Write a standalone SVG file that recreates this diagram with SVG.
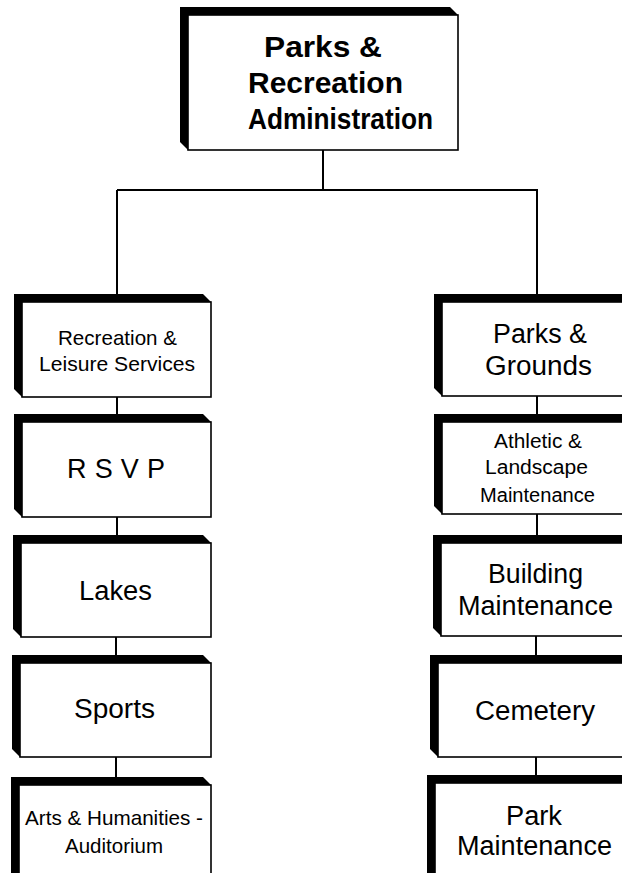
<svg xmlns="http://www.w3.org/2000/svg" width="622" height="873" viewBox="0 0 622 873">
<style>
.bg{fill:#ffffff}
.ext{fill:#000000}
.face{fill:#ffffff;stroke:#000000;stroke-width:1.6}
.conn{fill:none;stroke:#000000;stroke-width:2}
text{font-family:"Liberation Sans",Arial,Helvetica,sans-serif;fill:#000000}
.b{font-weight:bold;font-size:30px}
.s{font-size:21px}
.t{font-size:20px}
.m{font-size:27px}
.l{font-size:27px}
</style>
<rect class="bg" x="0" y="0" width="622" height="873"/>
<g id="connectors">
<path class="conn" d="M323,150 V190 M117,190 H538 M117,190 V294 M537,190 V294"/>
<path class="conn" d="M117,397 V414 M117,517 V535 M116,637 V655 M116,757 V777"/>
<path class="conn" d="M537,396 V414 M537,514 V535 M536,636 V655 M536,757 V775"/>
</g>
<g id="admin">
<polygon class="ext" points="188,150 180,142 180,7 450,7 458,15"/>
<rect class="face" x="188" y="15" width="270" height="135"/>
<text class="b" x="264" y="57" textLength="118" lengthAdjust="spacingAndGlyphs">Parks &amp;</text>
<text class="b" x="248" y="93" textLength="155" lengthAdjust="spacingAndGlyphs">Recreation</text>
<text class="b" x="248" y="129" textLength="185" lengthAdjust="spacingAndGlyphs">Administration</text>
</g>
<g id="recreation">
<polygon class="ext" points="22,397 14,389 14,294 203,294 211,302"/>
<rect class="face" x="22" y="302" width="189" height="95"/>
<text class="s" x="58" y="345" textLength="119" lengthAdjust="spacingAndGlyphs">Recreation &amp;</text>
<text class="s" x="39" y="371" textLength="156" lengthAdjust="spacingAndGlyphs">Leisure Services</text>
</g>
<g id="rsvp">
<polygon class="ext" points="22,517 14,509 14,414 203,414 211,422"/>
<rect class="face" x="22" y="422" width="189" height="95"/>
<text class="m" x="67" y="478" textLength="98" lengthAdjust="spacing">R S V P</text>
</g>
<g id="lakes">
<polygon class="ext" points="21,637 13,629 13,535 203,535 211,543"/>
<rect class="face" x="21" y="543" width="190" height="94"/>
<text class="m" x="79" y="600" textLength="73" lengthAdjust="spacingAndGlyphs">Lakes</text>
</g>
<g id="sports">
<polygon class="ext" points="20,757 12,749 12,655 203,655 211,663"/>
<rect class="face" x="20" y="663" width="191" height="94"/>
<text class="m" x="74" y="718" textLength="81" lengthAdjust="spacingAndGlyphs">Sports</text>
</g>
<g id="arts">
<polygon class="ext" points="19,885 11,877 11,777 203,777 211,785"/>
<rect class="face" x="19" y="785" width="192" height="100"/>
<text class="s" x="25" y="825" textLength="178" lengthAdjust="spacingAndGlyphs">Arts &amp; Humanities -</text>
<text class="s" x="65" y="853" textLength="98" lengthAdjust="spacingAndGlyphs">Auditorium</text>
</g>
<g id="parks-grounds">
<polygon class="ext" points="442,396 434,388 434,294 632,294 640,302"/>
<rect class="face" x="442" y="302" width="198" height="94"/>
<text class="l" x="493" y="343" textLength="94" lengthAdjust="spacingAndGlyphs">Parks &amp;</text>
<text class="l" x="485" y="375" textLength="107" lengthAdjust="spacingAndGlyphs">Grounds</text>
</g>
<g id="athletic">
<polygon class="ext" points="442,514 434,506 434,414 632,414 640,422"/>
<rect class="face" x="442" y="422" width="198" height="92"/>
<text class="t" x="494" y="448" textLength="88" lengthAdjust="spacingAndGlyphs">Athletic &amp;</text>
<text class="t" x="485" y="474" textLength="103" lengthAdjust="spacingAndGlyphs">Landscape</text>
<text class="t" x="480" y="502" textLength="115" lengthAdjust="spacingAndGlyphs">Maintenance</text>
</g>
<g id="building">
<polygon class="ext" points="441,636 433,628 433,535 632,535 640,543"/>
<rect class="face" x="441" y="543" width="199" height="93"/>
<text class="l" x="488" y="583" textLength="95" lengthAdjust="spacingAndGlyphs">Building</text>
<text class="l" x="458" y="615" textLength="155" lengthAdjust="spacingAndGlyphs">Maintenance</text>
</g>
<g id="cemetery">
<polygon class="ext" points="438,757 430,749 430,655 632,655 640,663"/>
<rect class="face" x="438" y="663" width="202" height="94"/>
<text class="l" x="475" y="720" textLength="120" lengthAdjust="spacingAndGlyphs">Cemetery</text>
</g>
<g id="park-maintenance">
<polygon class="ext" points="435,883 427,875 427,775 632,775 640,783"/>
<rect class="face" x="435" y="783" width="205" height="100"/>
<text class="l" x="506" y="825" textLength="56" lengthAdjust="spacingAndGlyphs">Park</text>
<text class="l" x="457" y="855" textLength="155" lengthAdjust="spacingAndGlyphs">Maintenance</text>
</g>
</svg>
